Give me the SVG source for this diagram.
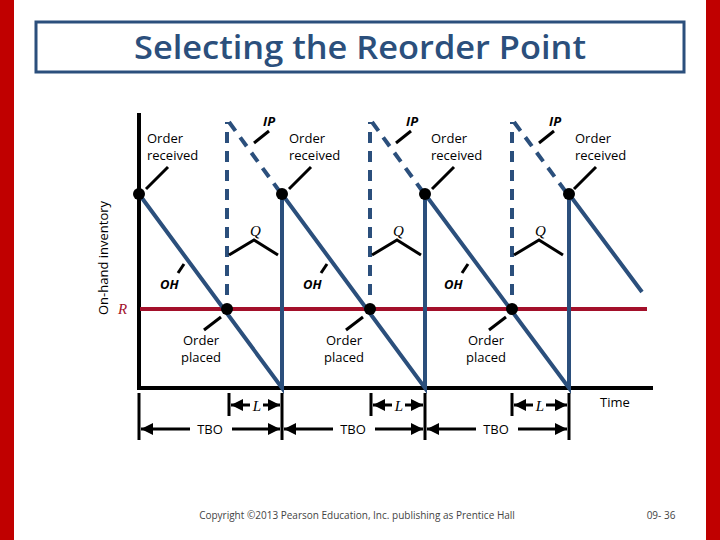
<svg xmlns="http://www.w3.org/2000/svg" width="720" height="540" viewBox="0 0 720 540">
<defs>
<marker id="ah" viewBox="0 0 10 10" refX="10" refY="5" markerWidth="4" markerHeight="4" orient="auto-start-reverse"><path d="M0,0 L10,5 L0,10 z" fill="#000"/></marker>
<style>
.lbl{font-family:"Open Sans","DejaVu Sans",sans-serif;font-size:13px;fill:#000}
.ital{font-family:"Liberation Serif",serif;font-style:italic;font-size:15px}
.saw{stroke:#2b4f7c;stroke-width:4;fill:none}
.ip{stroke:#2b4f7c;stroke-width:4;fill:none;stroke-dasharray:11,8}
.lead{stroke:#000;stroke-width:3;fill:none}
.dim{stroke:#000;stroke-width:3;fill:none;marker-start:url(#ah);marker-end:url(#ah)}
.tick{stroke:#000;stroke-width:3}
</style>
</defs>
<rect width="720" height="540" fill="#fff"/>
<rect x="0" y="0" width="14" height="540" fill="#c00000"/>
<rect x="706" y="0" width="14" height="540" fill="#c00000"/>
<g id="title">
<rect x="36" y="22" width="648" height="50" fill="#fff" stroke="#2b4f7c" stroke-width="3"/>
<text x="360" y="59" text-anchor="middle" font-family="'Open Sans',sans-serif" font-weight="600" font-size="32" fill="#2b4f7c" textLength="452" lengthAdjust="spacingAndGlyphs">Selecting the Reorder Point</text>
</g>
<g id="axes">
<line x1="139" y1="113" x2="139" y2="388" stroke="#000" stroke-width="4"/>
<line x1="137" y1="388" x2="653" y2="388" stroke="#000" stroke-width="4"/>
<text transform="translate(108,258) rotate(-90)" text-anchor="middle" class="lbl" font-size="12">On-hand inventory</text>
<text x="600" y="407" class="lbl" font-size="14">Time</text>
</g>
<g id="R">
<line x1="140" y1="309" x2="647" y2="309" stroke="#a3102a" stroke-width="4"/>
<text x="118" y="314" class="ital" fill="#a3102a" font-size="16">R</text>
</g>
<g id="connectors">
<path class="saw" d="M139,194 L282,388 L282,194 L425,388 L425,194 L569,388 L569,194 L642,292"/>
<path class="ip" d="M227,295 L227,122 M229,122 L280,192"/>
<path class="ip" d="M370,295 L370,122 M372,122 L423,192"/>
<path class="ip" d="M512,295 L512,122 M514,122 L566,192"/>
<g class="lead">
<path d="M146,189 L168,167"/><path d="M289,189 L311,167"/><path d="M432,189 L454,167"/><path d="M574,189 L596,167"/>
<path d="M254,143 L269,131"/><path d="M396,143 L411,131"/><path d="M539,143 L554,131"/>
<path d="M229,255 L254,240 L278,255"/><path d="M372,255 L397,240 L421,255"/><path d="M514,255 L539,240 L563,255"/>
<path d="M178,273 L184,264"/><path d="M321,273 L327,264"/><path d="M462,273 L468,264"/>
<path d="M204,330 L221,317"/><path d="M346,330 L363,317"/><path d="M489,330 L506,317"/>
</g>
<g class="tick">
<line x1="139" y1="393" x2="139" y2="440"/><line x1="282" y1="393" x2="282" y2="440"/><line x1="425" y1="393" x2="425" y2="440"/><line x1="569" y1="393" x2="569" y2="440"/>
<line x1="229" y1="393" x2="229" y2="416"/><line x1="371" y1="393" x2="371" y2="416"/><line x1="512" y1="393" x2="512" y2="416"/>
</g>
<path class="dim" d="M231,405 L250,405 M263,405 L280,405"/>
<path class="dim" d="M373,405 L392,405 M405,405 L423,405"/>
<path class="dim" d="M514,405 L533,405 M546,405 L567,405"/>
<path class="dim" d="M141,429 L190,429 M232,429 L280,429"/>
<path class="dim" d="M284,429 L333,429 M375,429 L423,429"/>
<path class="dim" d="M427,429 L476,429 M518,429 L567,429"/>
</g>
<g id="dots" fill="#000">
<circle cx="139" cy="194" r="6"/><circle cx="282" cy="194" r="6"/><circle cx="425" cy="194" r="6"/><circle cx="569" cy="194" r="6"/>
<circle cx="227" cy="309" r="6"/><circle cx="370" cy="309" r="6"/><circle cx="512" cy="309" r="6"/>
</g>
<g id="labels">
<text x="147" y="143" class="lbl">Order</text><text x="147" y="160" class="lbl">received</text>
<text x="289" y="143" class="lbl">Order</text><text x="289" y="160" class="lbl">received</text>
<text x="431" y="143" class="lbl">Order</text><text x="431" y="160" class="lbl">received</text>
<text x="575" y="143" class="lbl">Order</text><text x="575" y="160" class="lbl">received</text>
<text x="263" y="126" class="lbl" font-style="italic" font-weight="bold">IP</text>
<text x="406" y="126" class="lbl" font-style="italic" font-weight="bold">IP</text>
<text x="549" y="126" class="lbl" font-style="italic" font-weight="bold">IP</text>
<text x="250" y="236" class="ital">Q</text><text x="393" y="236" class="ital">Q</text><text x="535" y="236" class="ital">Q</text>
<text x="160" y="289" class="lbl" font-style="italic" font-weight="bold">OH</text>
<text x="303" y="289" class="lbl" font-style="italic" font-weight="bold">OH</text>
<text x="444" y="289" class="lbl" font-style="italic" font-weight="bold">OH</text>
<text x="201" y="345" class="lbl" text-anchor="middle">Order</text><text x="201" y="362" class="lbl" text-anchor="middle">placed</text>
<text x="344" y="345" class="lbl" text-anchor="middle">Order</text><text x="344" y="362" class="lbl" text-anchor="middle">placed</text>
<text x="486" y="345" class="lbl" text-anchor="middle">Order</text><text x="486" y="362" class="lbl" text-anchor="middle">placed</text>
<text x="257" y="411" class="ital" text-anchor="middle">L</text><text x="399" y="411" class="ital" text-anchor="middle">L</text><text x="540" y="411" class="ital" text-anchor="middle">L</text>
<text x="210" y="434" class="lbl" text-anchor="middle">TBO</text><text x="353" y="434" class="lbl" text-anchor="middle">TBO</text><text x="496" y="434" class="lbl" text-anchor="middle">TBO</text>
<text x="357" y="519" font-family="'Open Sans',sans-serif" font-size="10" fill="#444" text-anchor="middle">Copyright ©2013 Pearson Education, Inc. publishing as Prentice Hall</text>
<text x="661" y="519" font-family="'Open Sans',sans-serif" font-size="10" fill="#444" text-anchor="middle">09- 36</text>
</g>
</svg>
